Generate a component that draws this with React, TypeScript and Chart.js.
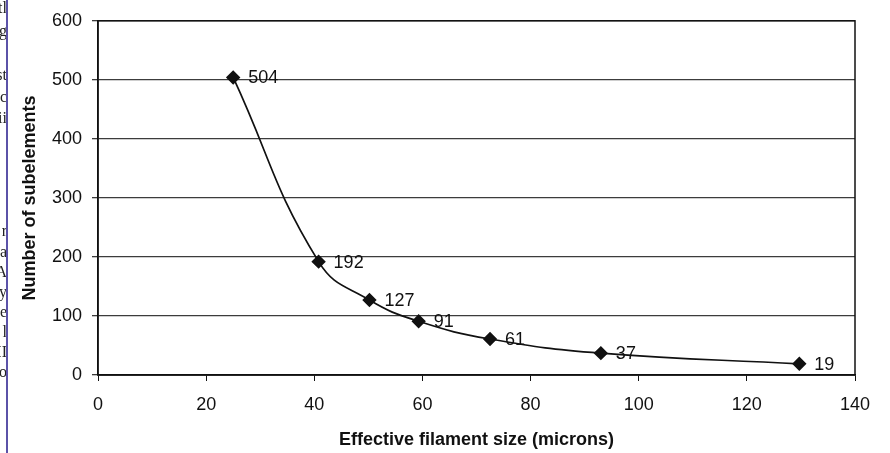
import React, { useEffect, useRef } from "react";
import { Chart, registerables } from "chart.js";

Chart.register(...registerables);

const filamentSizes = [25, 40.8, 50.2, 59.3, 72.5, 93, 129.7];
const subelements = [504, 192, 127, 91, 61, 37, 19];
const xTicks = [0, 20, 40, 60, 80, 100, 120, 140];
const yTicks = [0, 100, 200, 300, 400, 500, 600];
const xTitle = "Effective filament size (microns)";
const yTitle = "Number of subelements";
const marginFragments = ["tl", "ig", "st", "nc", "ii", "r", "a", "A", "y", "e", "l", "II", "o"];
const marginFragmentRows = [8, 31, 75, 97, 118, 231, 252, 272, 292, 312, 332, 352, 372];

const INK = "#111111";
const GRID = "#3c3c3c";
const FONT = "'Liberation Sans', Arial, sans-serif";

export default function App() {
  const ref = useRef<HTMLCanvasElement | null>(null);

  useEffect(() => {
    document.body.style.margin = "0";
    const canvas = ref.current;
    if (!canvas) return;

    const framePlugin = {
      id: "frame",
      afterDatasetsDraw(chart: any) {
        const { ctx, chartArea } = chart;
        ctx.save();
        ctx.strokeStyle = INK;
        ctx.lineWidth = 1.5;
        ctx.strokeRect(chartArea.left, chartArea.top, chartArea.right - chartArea.left, chartArea.bottom - chartArea.top);
        ctx.restore();
      },
      afterDraw(chart: any) {
        const { ctx } = chart;
        const meta = chart.getDatasetMeta(0);
        ctx.save();
        ctx.fillStyle = INK;
        ctx.font = `18px ${FONT}`;
        ctx.textAlign = "left";
        ctx.textBaseline = "middle";
        meta.data.forEach((pt: any, i: number) => {
          ctx.fillText(String(subelements[i]), pt.x + 15, pt.y + 1);
        });
        ctx.restore();
      },
    };

    const chart = new Chart(canvas, {
      type: "line",
      data: {
        datasets: [
          {
            data: filamentSizes.map((x, i) => ({ x, y: subelements[i] })),
            borderColor: INK,
            backgroundColor: INK,
            borderWidth: 1.7,
            tension: 0.45,
            pointStyle: "rectRot",
            pointRadius: 6,
            pointBackgroundColor: INK,
            pointBorderColor: INK,
            fill: false,
          },
        ],
      },
      options: {
        animation: false,
        responsive: false,
        events: [],
        layout: { padding: { top: 18, right: 35, left: 0, bottom: 0 } },
        plugins: { legend: { display: false }, tooltip: { enabled: false } },
        scales: {
          x: {
            type: "linear",
            min: 0,
            max: 140,
            afterBuildTicks: (s: any) => {
              s.ticks = xTicks.map((v) => ({ value: v }));
            },
            afterFit: (s: any) => {
              s.height = 78;
            },
            grid: { drawOnChartArea: false, drawTicks: true, tickLength: 6, color: INK, lineWidth: 1 },
            border: { display: true, color: INK, width: 1.5 },
            ticks: { color: INK, font: { family: FONT, size: 18 }, padding: 13, maxRotation: 0 },
            title: {
              display: true,
              text: xTitle,
              color: INK,
              font: { family: FONT, size: 18, weight: "bold" },
              padding: { top: 0, bottom: 2 },
            },
          },
          y: {
            type: "linear",
            min: 0,
            max: 600,
            afterBuildTicks: (s: any) => {
              s.ticks = yTicks.map((v) => ({ value: v }));
            },
            afterFit: (s: any) => {
              s.width = 98;
            },
            grid: { drawOnChartArea: true, drawTicks: true, tickLength: 6, color: GRID, lineWidth: 1.3 },
            border: { display: true, color: INK, width: 1.5 },
            ticks: { color: INK, font: { family: FONT, size: 18 }, padding: 10 },
            title: {
              display: true,
              text: yTitle,
              color: INK,
              font: { family: FONT, size: 18, weight: "bold" },
              padding: { top: 19, bottom: 0 },
            },
          },
        },
      },
      plugins: [framePlugin],
    } as any);

    return () => chart.destroy();
  }, []);

  return (
    <div style={{ position: "fixed", left: 0, top: 0, width: 890, height: 453, background: "#fff", overflow: "hidden" }}>
      <canvas ref={ref} width={890} height={453} style={{ position: "absolute", left: 0, top: 0, width: 890, height: 453 }} />
      <div style={{ position: "absolute", left: 0, top: 0, width: 6, height: 453, overflow: "hidden" }}>
        {marginFragments.map((t, i) => (
          <div
            key={i}
            style={{
              position: "absolute",
              right: -1,
              top: marginFragmentRows[i] - 9,
              fontFamily: "'Liberation Serif', 'DejaVu Serif', serif",
              fontSize: 16,
              lineHeight: "18px",
              color: "#222",
              whiteSpace: "nowrap",
            }}
          >
            {t}
          </div>
        ))}
      </div>
      <div style={{ position: "absolute", left: 6, top: 0, width: 2, height: 453, background: "#5b52a8" }} />
    </div>
  );
}
